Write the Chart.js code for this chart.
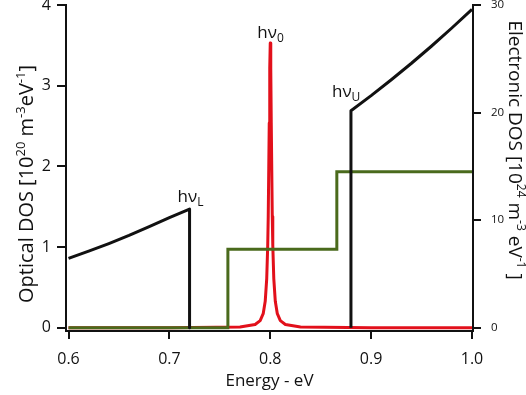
<!DOCTYPE html>
<html>
<head>
<meta charset="utf-8">
<script src="https://cdn.jsdelivr.net/npm/chart.js@4.4.1/dist/chart.umd.min.js"></script>
<style>
  html, body { margin: 0; padding: 0; background: #ffffff; }
  canvas { display: block; }
</style>
</head>
<body>
<canvas id="c" width="526" height="395"></canvas>
<script>
// ---- data ----
// Optical DOS (left axis, 10^20 m^-3 eV^-1), black curve, lower band
const lowerEnergy = [0.60, 0.62, 0.64, 0.66, 0.68, 0.70, 0.72, 0.72];
const lowerDOS    = [0.860, 0.949, 1.044, 1.144, 1.252, 1.365, 1.470, 0.000];
// Optical DOS, black curve, upper band
const upperEnergy = [0.88, 0.88, 0.90, 0.92, 0.94, 0.96, 0.98, 1.00];
const upperDOS    = [0.000, 2.690, 2.877, 3.074, 3.278, 3.492, 3.715, 3.945];
// Optical DOS, red resonance line at hv0
const peakEnergy = [0.60, 0.70, 0.77, 0.785, 0.79, 0.793, 0.795, 0.7965, 0.7975, 0.798, 0.799, 0.7995,
                    0.80, 0.8005, 0.801, 0.802, 0.8025, 0.8035, 0.805, 0.807, 0.81, 0.815, 0.83, 0.90, 1.00];
const peakDOS    = [0.000, 0.001, 0.010, 0.040, 0.088, 0.175, 0.328, 0.610, 1.026, 1.378, 2.538, 3.216,
                    3.530, 3.216, 2.538, 1.378, 1.026, 0.610, 0.328, 0.175, 0.088, 0.040, 0.010, 0.001, 0.000];
// Electronic DOS (right axis, 10^24 m^-3 eV^-1), green steps
const stepEnergy = [0.60, 0.758, 0.758, 0.866, 0.866, 1.00];
const stepDOS    = [0.0, 0.0, 7.3, 7.3, 14.5, 14.5];
// tick labels
const xTicks  = [0.6, 0.7, 0.8, 0.9, 1.0];
const yTicks  = [0, 1, 2, 3, 4];
const y2Ticks = [0, 10, 20, 30];

const FONT = '"Open Sans", "DejaVu Sans", sans-serif';
const pts = (xs, ys) => xs.map((x, i) => ({ x: x, y: ys[i] }));

function drawRich(ctx, parts, x, y, align) {
  let total = 0;
  const ws = parts.map(p => {
    ctx.font = p[1] + 'px ' + FONT;
    const w = ctx.measureText(p[0]).width;
    total += w;
    return w;
  });
  let cur = align === 'center' ? x - total / 2 : x;
  parts.forEach((p, i) => {
    ctx.font = p[1] + 'px ' + FONT;
    ctx.fillText(p[0], cur, y + p[2]);
    cur += ws[i];
  });
}

const textPlugin = {
  id: 'texts',
  afterDraw(chart) {
    const ctx = chart.ctx;
    const xs = chart.scales.x, ys = chart.scales.y;
    const ca = chart.chartArea;
    ctx.save();
    ctx.fillStyle = '#111';
    ctx.textBaseline = 'alphabetic';
    ctx.textAlign = 'left';

    // x title
    drawRich(ctx, [['Energy - eV', 17, 0]], (ca.left + ca.right) / 2, 386, 'center');

    // left title
    ctx.save();
    ctx.translate(33, 184);
    ctx.rotate(-Math.PI / 2);
    drawRich(ctx, [
      ['Optical DOS [10', 20, 0], ['20', 13, -8], [' m', 20, 0], ['-3', 13, -8],
      ['eV', 20, 0], ['-1', 13, -8], [']', 20, 0]
    ], 0, 0, 'center');
    ctx.restore();

    // right title
    ctx.save();
    ctx.translate(509, 150);
    ctx.rotate(Math.PI / 2);
    drawRich(ctx, [
      ['Electronic DOS [10', 19, 0], ['24', 12, -8], [' m', 19, 0], ['-3', 12, -8],
      [' eV', 19, 0], ['-1', 12, -8], [' ]', 19, 0]
    ], 0, 0, 'center');
    ctx.restore();

    // annotations
    const px = v => xs.getPixelForValue(v);
    const py = v => ys.getPixelForValue(v);
    drawRich(ctx, [['hν', 17, 0], ['L', 12, 4]], px(0.72) - 12, py(1.47) - 7, 'left');
    drawRich(ctx, [['hν', 17, 0], ['0', 12, 4]], px(0.80) - 13, py(3.53) - 5, 'left');
    drawRich(ctx, [['hν', 17, 0], ['U', 12, 4]], px(0.88) - 19, py(2.69) - 14, 'left');
    ctx.restore();
  }
};

const axisGrid = { drawOnChartArea: false, drawTicks: true, tickLength: 8, color: '#111', lineWidth: 2 };
const yGrid = Object.assign({}, axisGrid, { tickLength: 9 });
const axisBorder = { display: true, color: '#111', width: 2 };
const lineStyle = { pointRadius: 0, fill: false, tension: 0, borderWidth: 3, borderJoinStyle: 'round', borderCapStyle: 'butt' };

new Chart(document.getElementById('c'), {
  type: 'line',
  data: {
    datasets: [
      Object.assign({ label: 'lower', data: pts(lowerEnergy, lowerDOS), yAxisID: 'y', borderColor: '#111' }, lineStyle),
      Object.assign({ label: 'upper', data: pts(upperEnergy, upperDOS), yAxisID: 'y', borderColor: '#111' }, lineStyle),
      Object.assign({ label: 'electronic', data: pts(stepEnergy, stepDOS), yAxisID: 'y2', borderColor: '#4a6a1c' }, lineStyle, { borderJoinStyle: 'miter' }),
      Object.assign({ label: 'peak', data: pts(peakEnergy, peakDOS), yAxisID: 'y', borderColor: '#e2101b' }, lineStyle)
    ]
  },
  options: {
    responsive: false,
    animation: false,
    devicePixelRatio: 1,
    layout: { padding: { top: 5, left: 0, right: 0, bottom: 0 } },
    plugins: { legend: { display: false }, tooltip: { enabled: false } },
    scales: {
      x: {
        type: 'linear', min: 0.5975, max: 1.001,
        afterBuildTicks: s => { s.ticks = xTicks.map(v => ({ value: v })); },
        afterFit: s => { s.height = 64; s.paddingLeft = 0; s.paddingRight = 0; },
        ticks: { callback: v => Number(v).toFixed(1), font: { family: FONT, size: 16 }, color: '#111', padding: 11, maxRotation: 0 },
        grid: axisGrid, border: axisBorder
      },
      y: {
        type: 'linear', position: 'left', min: -0.04, max: 4,
        afterBuildTicks: s => { s.ticks = yTicks.map(v => ({ value: v })); },
        afterFit: s => { s.width = 66; s.paddingTop = 0; s.paddingBottom = 0; },
        ticks: { font: { family: FONT, size: 16 }, color: '#111', padding: 6 },
        grid: yGrid, border: axisBorder
      },
      y2: {
        type: 'linear', position: 'right', min: -0.3, max: 30,
        afterBuildTicks: s => { s.ticks = y2Ticks.map(v => ({ value: v })); },
        afterFit: s => { s.width = 53; s.paddingTop = 0; s.paddingBottom = 0; },
        ticks: { font: { family: FONT, size: 11.5 }, color: '#111', padding: 10 },
        grid: axisGrid, border: axisBorder
      }
    }
  },
  plugins: [textPlugin]
});
</script>
</body>
</html>
